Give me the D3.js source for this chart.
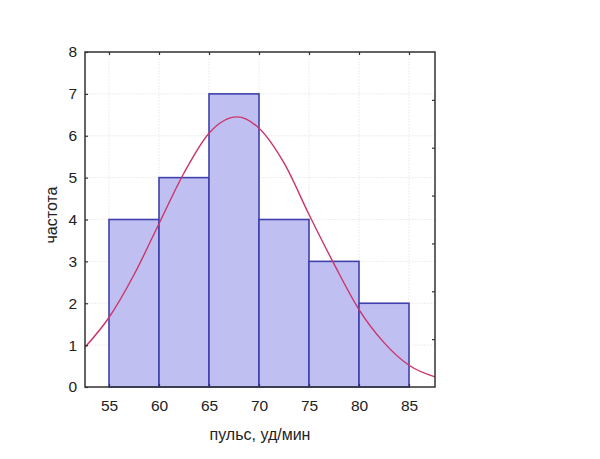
<!DOCTYPE html>
<html>
<head>
<meta charset="utf-8">
<script src="https://cdn.jsdelivr.net/npm/d3@7"></script>
<style>
  body { margin: 0; background: #fff; }
  text { font-family: "Liberation Sans", Arial, sans-serif; fill: #222; }
</style>
</head>
<body>
<svg id="chart"></svg>
<script>
// histogram bins (lower edge, upper edge) and counts
var binStart = [55, 60, 65, 70, 75, 80];
var binEnd   = [60, 65, 70, 75, 80, 85];
var counts   = [4, 5, 7, 4, 3, 2];

// fitted normal curve
var curveX = [52.6, 55, 57.5, 60, 62.5, 65, 67.8, 70, 72.5, 75, 77.5, 80, 82.5, 85, 87.6];
var curveY = [0.95, 1.66, 2.68, 3.90, 5.11, 6.06, 6.45, 6.18, 5.35, 4.12, 2.94, 1.85, 1.06, 0.52, 0.24];

var xTicks = [55, 60, 65, 70, 75, 80, 85];
var yTicks = [0, 1, 2, 3, 4, 5, 6, 7, 8];
var rightTicks = [1, 2, 3, 4, 5, 6];

var margin = {top: 52, right: 165, bottom: 72, left: 85},
    width = 600 - margin.left - margin.right,
    height = 459 - margin.top - margin.bottom;

var svg = d3.select("#chart")
    .attr("width", 600)
    .attr("height", 459)
    .append("g")
    .attr("transform", "translate(" + margin.left + "," + margin.top + ")");

var x = d3.scaleLinear().domain([52.6, 87.6]).range([0, width]);
var y = d3.scaleLinear().domain([0, 8]).range([height, 0]);
var yRight = d3.scaleLinear().domain([0, 7]).range([height, 0]);

// light grid
svg.append("g")
    .selectAll("line.gy")
    .data(yTicks)
    .enter()
    .append("line")
    .attr("x1", 0).attr("x2", width)
    .attr("y1", function(d){ return y(d); })
    .attr("y2", function(d){ return y(d); })
    .style("stroke", "#ededed")
    .style("stroke-dasharray", "2,1");

svg.append("g")
    .selectAll("line.gx")
    .data(xTicks)
    .enter()
    .append("line")
    .attr("y1", 0).attr("y2", height)
    .attr("x1", function(d){ return x(d); })
    .attr("x2", function(d){ return x(d); })
    .style("stroke", "#ededed")
    .style("stroke-dasharray", "2,1");

// bars
svg.selectAll(".bar")
    .data(counts)
    .enter()
    .append("rect")
    .attr("class", "bar")
    .attr("x", function(d, i){ return x(binStart[i]); })
    .attr("width", function(d, i){ return x(binEnd[i]) - x(binStart[i]); })
    .attr("y", function(d){ return y(d); })
    .attr("height", function(d){ return height - y(d); })
    .style("fill", "#bfbff2")
    .style("stroke", "#4040ac")
    .style("stroke-width", "1.6px");

// normal curve
var line = d3.line()
    .x(function(d, i){ return x(curveX[i]); })
    .y(function(d){ return y(d); })
    .curve(d3.curveMonotoneX);

svg.append("path")
    .datum(curveY)
    .attr("d", line)
    .style("fill", "none")
    .style("stroke", "#cc3468")
    .style("stroke-width", "1.4px");

// axes: labels outside, small ticks inside
svg.append("g")
    .attr("transform", "translate(0," + height + ")")
    .call(d3.axisBottom(x).tickValues(xTicks).tickSize(-3).tickPadding(13))
    .call(function(g){ g.select(".domain").remove(); })
    .selectAll("text").style("font-size", "15.5px");

svg.append("g")
    .call(d3.axisLeft(y).tickValues(yTicks).tickSize(-3).tickPadding(8))
    .call(function(g){ g.select(".domain").remove(); })
    .selectAll("text").style("font-size", "15.5px");

svg.append("g")
    .call(d3.axisTop(x).tickValues(xTicks).tickSize(-3).tickFormat(""))
    .call(function(g){ g.select(".domain").remove(); });

svg.append("g")
    .attr("transform", "translate(" + width + ",0)")
    .call(d3.axisRight(yRight).tickValues(rightTicks).tickSize(-3).tickFormat(""))
    .call(function(g){ g.select(".domain").remove(); });

svg.selectAll(".tick line").style("stroke", "#333").style("stroke-width", "1.2px");

// frame
svg.append("rect")
    .attr("width", width)
    .attr("height", height)
    .style("fill", "none")
    .style("stroke", "#333")
    .style("stroke-width", "1.5px");

// axis titles
svg.append("text")
    .attr("x", width / 2)
    .attr("y", height + 53)
    .style("text-anchor", "middle")
    .style("font-size", "16px")
    .text("пульс, уд/мин");

svg.append("text")
    .attr("transform", "rotate(-90)")
    .attr("x", -163)
    .attr("y", -28)
    .style("text-anchor", "middle")
    .style("font-size", "16px")
    .text("частота");
</script>
</body>
</html>
